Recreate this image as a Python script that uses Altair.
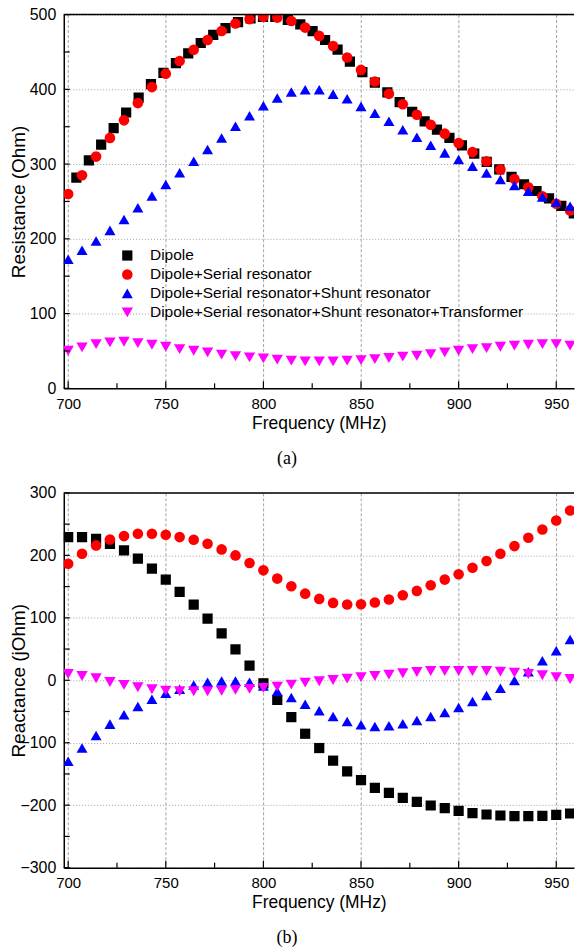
import altair as alt
import pandas as pd

FONT = "Liberation Sans"
SERIES = ["Dipole", "Dipole+Serial resonator",
          "Dipole+Serial resonator+Shunt resonator",
          "Dipole+Serial resonator+Shunt resonator+Transformer"]
COLORS = ["#000000", "#ff0000", "#0000ff", "#ff00ff"]
SHAPES = ["square", "circle", "triangle-up", "triangle-down"]
SIZES = [105, 130, 150, 150]

# common frequency grid (MHz)
freq = [700.0, 707.1, 714.3, 721.4, 728.6, 735.7, 742.9, 750.0, 757.1, 764.3,
        771.4, 778.6, 785.7, 792.9, 800.0, 807.1, 814.3, 821.4, 828.6, 835.7,
        842.9, 850.0, 857.1, 864.3, 871.4, 878.6, 885.7, 892.9, 900.0, 907.1,
        914.3, 921.4, 928.6, 935.7, 942.9, 950.0, 957.1]

# (a) resistance
freq_dipole_r = [704.2, 710.6, 716.9, 723.3, 729.7, 736.1, 742.4, 748.8, 755.2, 761.5,
                 767.9, 774.3, 780.6, 787.0, 793.4, 799.8, 806.1, 812.5, 818.9, 825.2,
                 831.6, 838.0, 844.3, 850.7, 857.1, 863.5, 869.8, 876.2, 882.6, 888.9,
                 895.3, 901.7, 908.0, 914.4, 920.8, 927.1, 933.5, 939.9, 946.3, 952.6, 959.0]
dipole_r = [282, 305, 326, 348, 369, 389, 407, 422, 435, 448,
            462, 473, 482, 490, 495, 497, 497, 493, 487, 478,
            466, 453, 437, 423, 409, 396, 383, 370, 357, 346,
            335, 325, 314, 303, 293, 283, 273, 264, 254, 244, 234]
serial_r = [260, 285, 310, 335, 358.5, 381.6, 403, 421, 438, 453, 466, 478, 488, 494,
            497, 496, 491.5, 482.6, 471.5, 458, 442.6, 426, 410.5, 394, 380, 366, 352.7,
            340.7, 328, 316, 303.8, 292.7, 280, 269, 257, 247, 238]
shunt_r = [172.6, 184.6, 197, 211.3, 226, 241.7, 257.2, 272.7, 288.3, 303.8, 319.4, 335,
           350.5, 364.7, 378, 388.3, 396.3, 399.4, 399.4, 393.6, 387.4, 377.2, 367.9,
           357.2, 346, 335.8, 325.2, 315, 306, 297, 288.2, 279.3, 271.3, 263.8, 255.8,
           249, 243.7]
transformer_r = [50.3, 54.7, 59.2, 61.4, 62.3, 60.5, 58.3, 55.6, 52.5, 50.3, 48, 45, 43,
                 41.4, 40, 38.3, 37, 36, 36, 36, 37, 37.8, 39, 40.5, 42.3, 43.6, 45.8, 48,
                 50.3, 52.5, 53.8, 55.6, 57, 58.3, 59.2, 59.2, 57]

# (b) reactance
dipole_x = [229.3, 229.3, 226.6, 218.6, 208, 194.7, 178.7, 161.2, 141.5, 121.3, 98.9, 75,
            49.5, 23.4, -4.8, -31.4, -59, -85.6, -108.5, -128.7, -145.7, -160, -172.3,
            -180.3, -188.3, -194.7, -200.5, -204.8, -209, -212.8, -214.9, -216.5, -217.5,
            -217.5, -217, -215.4, -213.3]
serial_x = [186.7, 202.6, 216, 225.5, 230.9, 234.6, 234.6, 233, 229.3, 225, 218.6, 209.6,
            200, 187.8, 176, 162.8, 150.5, 138.7, 130.3, 123.9, 121.3, 121.8, 124.5, 129.3,
            136.2, 143.1, 152.1, 161.2, 169.7, 180.3, 190.9, 202.6, 214.9, 228.2, 241.5,
            255.8, 271.8]
shunt_x = [-129.8, -108.5, -88.3, -70.2, -55.3, -42, -30.3, -20.7, -14.4, -7.4, -3.2, -1.1,
           -1.1, -3.2, -9, -18.1, -27.7, -38.3, -48.9, -58, -66, -71.3, -73.9, -72.9, -69.7,
           -64.4, -58, -51.6, -43.6, -34, -24.5, -12.8, -0.5, 13.8, 31.4, 47.3, 65.4]
transformer_x = [10.1, 6.9, 3.2, -2.7, -7.4, -11.2, -14.4, -16.5, -17.6, -17.6, -17.6, -17,
                 -15.4, -13.8, -12.2, -10.1, -6.9, -3.7, -1.6, 0.5, 2.7, 4.8, 6.9, 9, 11.2,
                 13.3, 14.9, 14.9, 14.9, 14.9, 14.9, 13.8, 12.2, 10.1, 8, 4.8, 2.1]

x_major = [700, 750, 800, 850, 900, 950]
x_minor = [725, 775, 825, 875, 925]
r_major = [0, 100, 200, 300, 400, 500]
r_minor = [50, 150, 250, 350, 450]
x_react_major = [-300, -200, -100, 0, 100, 200, 300]
x_react_minor = [-250, -150, -50, 50, 150, 250]


def make_df(freq_lists, value_lists):
    rows = []
    for s, fl, vl in zip(SERIES, freq_lists, value_lists):
        for f, v in zip(fl, vl):
            rows.append({"freq": f, "value": v, "series": s})
    return pd.DataFrame(rows)


df_r = make_df([freq_dipole_r, freq, freq, freq], [dipole_r, serial_r, shunt_r, transformer_r])
df_x = make_df([freq, freq, freq, freq], [dipole_x, serial_x, shunt_x, transformer_x])

W = 512


def panel(df, H, ytitle, ydom, ymaj, ymin, caption, legend):
    xs = alt.Scale(domain=[697.75, 959.1], nice=False, zero=False)
    ys = alt.Scale(domain=ydom, nice=False, zero=False)
    xax = alt.Axis(values=x_major, grid=True, gridColor="#8a8a8a", gridDash=[3, 2],
                   gridWidth=0.8, ticks=False, domainColor="black", domainWidth=1.5,
                   labelFont=FONT, labelFontSize=15, labelColor="black", labelPadding=8,
                   labelFlush=False, labelOverlap=False, format="d",
                   title="Frequency (MHz)", titleFont=FONT, titleFontSize=17.5,
                   titleFontWeight="normal", titleColor="black", titleY=40,
                   titleBaseline="alphabetic")
    yax = alt.Axis(values=ymaj, grid=True, gridColor="#8a8a8a", gridDash=[1, 2],
                   gridWidth=0.8, ticks=False, domainColor="black", domainWidth=1.5,
                   labelFont=FONT, labelFontSize=16, labelColor="black", labelPadding=8,
                   labelFlush=False, labelOverlap=False, format="d",
                   title=ytitle, titleFont=FONT, titleFontSize=19,
                   titleFontWeight="normal", titleColor="black", titleX=-39,
                   titleBaseline="alphabetic")
    X = alt.X("freq:Q", scale=xs, axis=xax)
    Y = alt.Y("value:Q", scale=ys, axis=yax)
    pts = alt.Chart(df).mark_point(filled=True, opacity=1, strokeWidth=0, clip=True).encode(
        x=X, y=Y,
        color=alt.Color("series:N", scale=alt.Scale(domain=SERIES, range=COLORS), legend=legend),
        shape=alt.Shape("series:N", scale=alt.Scale(domain=SERIES, range=SHAPES), legend=legend),
        size=alt.Size("series:N", scale=alt.Scale(domain=SERIES, range=SIZES), legend=legend),
    )
    xt_maj = alt.Chart(pd.DataFrame({"freq": x_major})).mark_rule(
        color="black", strokeWidth=1.2).encode(x=X, y=alt.value(H), y2=alt.value(H - 7))
    xt_min = alt.Chart(pd.DataFrame({"freq": x_minor})).mark_rule(
        color="black", strokeWidth=1.2).encode(x=X, y=alt.value(H), y2=alt.value(H - 5))
    yt = alt.Chart(pd.DataFrame({"value": ymaj + ymin})).mark_rule(
        color="black", strokeWidth=1.2).encode(y=Y, x=alt.value(0), x2=alt.value(6))
    frame = alt.Chart(alt.Data(values=[{"a": 1}])).mark_rule(
        color="black", strokeWidth=1.5).encode(x=alt.value(0), x2=alt.value(W), y=alt.value(0))
    return alt.layer(pts, xt_maj, xt_min, yt, frame).properties(
        width=W, height=H,
        title=alt.TitleParams(caption, orient="bottom", anchor="middle", font="Liberation Serif",
                              fontSize=18, fontWeight="normal", color="black", dx=-32, offset=18),
    )


legend = alt.Legend(title=None, orient="none", legendX=56, legendY=234,
                    labelFont=FONT, labelFontSize=15.5, labelColor="black",
                    labelOffset=15, rowPadding=2, padding=0, symbolStrokeWidth=0,
                    symbolOpacity=1, labelLimit=0)

top = panel(df_r, 375, "Resistance (Ohm)", [0, 500], r_major, r_minor, "(a)", legend)
bottom = panel(df_x, 376, "Reactance (jOhm)", [-300, 300], x_react_major, x_react_minor, "(b)", None)

chart = alt.vconcat(top, bottom, spacing=17).resolve_scale(
    color="independent", shape="independent", size="independent"
).properties(
    padding={"left": 10, "top": 5, "right": 0, "bottom": 0},
    background="white",
).configure_view(stroke=None)

chart.save("out.html", embed_options={"renderer": "svg", "actions": False})
